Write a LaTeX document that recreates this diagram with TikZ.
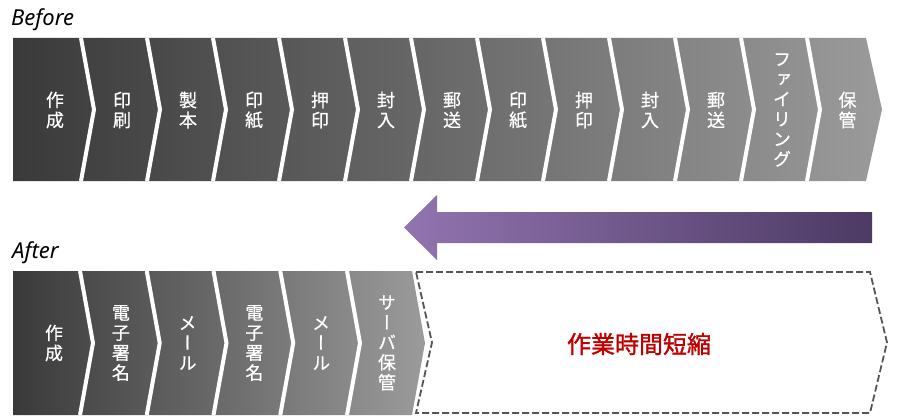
\documentclass[tikz,border=0pt]{standalone}
\usepackage{fontspec}
\setmainfont{Noto Sans}
\newfontfamily\jpv[RawFeature=+vert,FakeBold=0.6]{Noto Sans CJK JP}
\newfontfamily\jph[FakeBold=1.3]{Noto Sans CJK JP}
\definecolor{dk}{RGB}{58,58,58}
\definecolor{lt}{RGB}{155,155,155}
\definecolor{pla}{RGB}{146,116,176}
\definecolor{plb}{RGB}{76,58,100}
\definecolor{dashc}{RGB}{85,85,85}
\definecolor{redc}{RGB}{192,0,0}
\begin{document}
\begin{tikzpicture}[x=1pt,y=-1pt,
  lab/.style={text=white, font=\jpv\fontsize{18}{20}\selectfont, align=center, inner sep=0pt},
  sepline/.style={white, line width=4pt},
  title/.style={font=\itshape\fontsize{22}{26}\selectfont, inner sep=0pt, anchor=base west},
  dashbox/.style={draw=dashc, line width=1.8pt, dash pattern=on 7pt off 3pt},
  gain/.style={text=redc, font=\jph\fontsize{24}{28}\selectfont, inner sep=0pt}
  ]
\useasboundingbox (0,0) rectangle (900,420);
\fill[white] (0,0) rectangle (900,420);

% Titles
\node[title] (before) at (11,25.5) {Before};
\node[title] (after) at (12,258) {After};

% Before row
\foreach \lab [count=\i from 0] in {{作\\成},{印\\刷},{製\\本},{印\\紙},{押\\印},{封\\入},{郵\\送},{印\\紙},{押\\印},{封\\入},{郵\\送},{フ\\ァ\\イ\\リ\\ン\\グ},{保\\管}} {
  \pgfmathsetmacro\xl{\i==0 ? 13 : 81+66*(\i-1)}
  \pgfmathsetmacro\xr{\i==12 ? 866 : 81+66*\i}
  \pgfmathsetmacro\dl{\i==0 ? 0 : 13}
  \pgfmathsetmacro\dr{\i==12 ? 16 : 13}
  \pgfmathsetmacro\tx{\i==12 ? (\xl+\xr)/2+11 : (\xl+\xr)/2+8}
  \pgfmathtruncatemacro\pl{(\xl-13)/869*100}
  \pgfmathtruncatemacro\pr{(\xr+\dr-13)/869*100}
  \shade[left color=lt!\pl!dk, right color=lt!\pr!dk]
    (\xl,38) -- (\xr,38) -- ({\xr+\dr},109.5) -- (\xr,181) -- (\xl,181) -- ({\xl+\dl},109.5) -- cycle;
  \node[lab] (b\i) at (\tx,110) {\lab};
}
\foreach \k in {0,...,11} {
  \pgfmathsetmacro\s{81+66*\k}
  \draw[sepline] (\s,38) -- ({\s+13},109.5) -- (\s,181);
}

% After row
\foreach \lab [count=\i from 0] in {{作\\成},{電\\子\\署\\名},{メ\\ー\\ル},{電\\子\\署\\名},{メ\\ー\\ル},{サ\\ー\\バ\\保\\管}} {
  \pgfmathsetmacro\xl{\i==0 ? 13 : 80+66.75*(\i-1)}
  \pgfmathsetmacro\xr{\i==5 ? 412 : 80+66.75*\i}
  \pgfmathsetmacro\dl{\i==0 ? 0 : 13}
  \pgfmathtruncatemacro\pl{(\xl-13)/412*100}
  \pgfmathtruncatemacro\pr{(\xr+13-13)/412*100}
  \shade[left color=lt!\pl!dk, right color=lt!\pr!dk]
    (\xl,271) -- (\xr,271) -- ({\xr+13},343) -- (\xr,415) -- (\xl,415) -- ({\xl+\dl},343) -- cycle;
  \node[lab] (a\i) at ({(\xl+\xr)/2+7.5},343) {\lab};
}
\foreach \k in {0,...,4} {
  \pgfmathsetmacro\s{80+66.75*\k}
  \draw[sepline] (\s,271) -- ({\s+13},343) -- (\s,415);
}

% Dashed result chevron
\draw[dashbox] (416,272) -- (870,272) -- (887,342.5) -- (870,413) -- (416,413) -- (432,342.5) -- cycle;
\node[gain] (gain) at (639,344) {作業時間短縮};

% Purple arrow
\shade[left color=pla, right color=plb]
  (872,212) -- (437,212) -- (437,195) -- (404,227.5) -- (437,260) -- (437,243) -- (872,243) -- cycle;
\end{tikzpicture}
\end{document}
